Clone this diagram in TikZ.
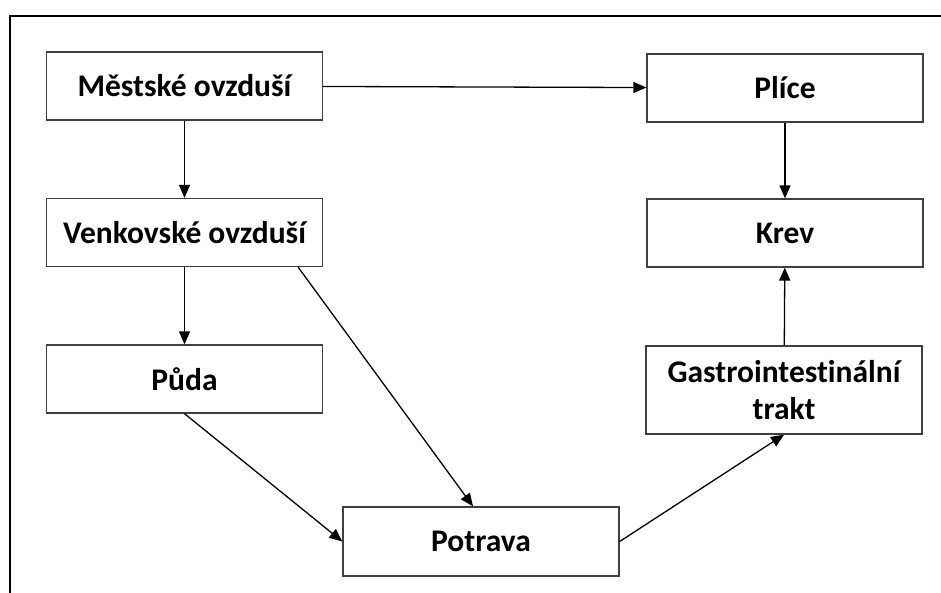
\documentclass[tikz,border=0pt]{standalone}
\usepackage{fontspec}
\setmainfont[Ligatures=NoCommon]{Carlito}
\usetikzlibrary{arrows.meta}

\begin{document}
\begin{tikzpicture}[x=1pt, y=-1pt,
    box/.style={draw=black!75, line width=1.3pt, minimum width=276pt,
      minimum height=68pt, align=center, inner sep=0pt,
      font=\fontsize{31.5}{37}\selectfont\bfseries},
    flow/.style={line width=1.3pt, -{Triangle[length=13pt,width=11pt]}}]
    \clip (0,0) rectangle (941,592);

    % frame
    \draw[line width=2pt] (10,600) -- (10,16) -- (950,16);

    % boxes
    \node[box] (mestske) at (184.5,86) {Městské ovzduší};
    \node[box] (plice) at (785,88) {Plíce};
    \node[box] (venkov) at (184.5,232.5) {Venkovské ovzduší};
    \node[box] (krev) at (785,233) {Krev};
    \node[box] (puda) at (184.5,379) {Půda};
    \node[box, minimum height=88pt] (gastro) at (784,390)
      {Gastrointestinální\\trakt};
    \node[box, minimum height=69pt] (potrava) at (481,541.5) {Potrava};

    % arrows
    \draw[flow] (mestske) -- (plice);
    \draw[flow] (mestske) -- (venkov);
    \draw[flow] (venkov) -- (puda);
    \draw[flow] (plice) -- (krev);
    \draw[flow] (gastro) -- (krev);
    \draw[flow] (puda.south) -- (potrava.west);
    \draw[flow] ([xshift=-25pt]venkov.south east) -- ([xshift=-8pt]potrava.north);
    \draw[flow] (potrava.east) -- (gastro.south);

  \end{tikzpicture}
\end{document}
